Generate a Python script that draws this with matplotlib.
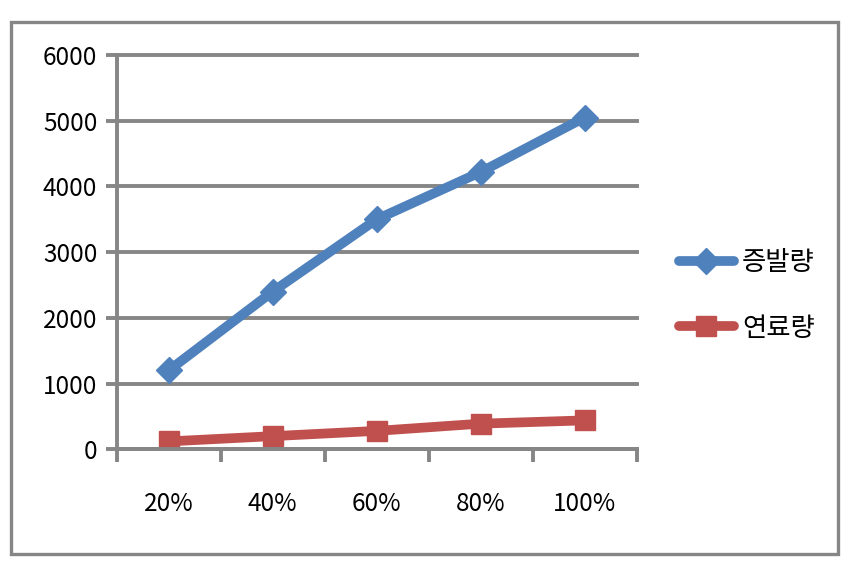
import matplotlib.pyplot as plt
from matplotlib.patches import Rectangle

plt.rcParams['font.family'] = ['Noto Sans CJK KR', 'DejaVu Sans']

# data
categories = ['20%', '40%', '60%', '80%', '100%']
evaporation = [1200, 2400, 3500, 4220, 5050]   # 증발량
fuel = [120, 200, 280, 390, 440]               # 연료량
yticks = [0, 1000, 2000, 3000, 4000, 5000, 6000]

grey = '#868686'

fig = plt.figure(figsize=(8.58, 5.68), dpi=100)
ax = fig.add_axes([0.136, 0.209, 0.606, 0.694])

x = range(len(categories))
ax.plot(x, evaporation, color='#4F81BD', lw=7, marker='D', markersize=13,
        label='증발량', solid_capstyle='round')
ax.plot(x, fuel, color='#C0504D', lw=7, marker='s', markersize=14,
        label='연료량', solid_capstyle='round')

ax.set_xlim(-0.5, len(categories) - 0.5)
ax.set_ylim(0, 6000)
ax.set_yticks(yticks)
ax.set_yticklabels([str(v) for v in yticks])
ax.set_xticks([i - 0.5 for i in range(len(categories) + 1)], minor=True)
ax.set_xticks(list(x))
ax.set_xticklabels(categories)

ax.yaxis.grid(True, color=grey, lw=2.8)
ax.set_axisbelow(True)
# keep the top gridline at full width
for gl in ax.yaxis.get_gridlines():
    gl.set_clip_on(False)
for side in ['top', 'right']:
    ax.spines[side].set_visible(False)
for side in ['left', 'bottom']:
    ax.spines[side].set_color(grey)
    ax.spines[side].set_linewidth(2.8)

ax.tick_params(axis='y', length=8, width=2.8, color=grey, labelsize=17.5, pad=6)
ax.tick_params(axis='x', which='major', length=0, labelsize=17.5, pad=30)
ax.tick_params(axis='x', which='minor', length=9, width=2.8, color=grey)

leg = ax.legend(loc='center left', bbox_to_anchor=(1.035, 0.39), frameon=False,
                fontsize=19, handlelength=2.1, labelspacing=1.45, handletextpad=0.3)

# grey frame around the chart area
fig.patches.append(Rectangle((11 / 858, 1 - 554 / 568), 827 / 858, 532 / 568,
                             transform=fig.transFigure, fill=False,
                             edgecolor=grey, lw=2.4))

fig.savefig('out.png', dpi=100)
